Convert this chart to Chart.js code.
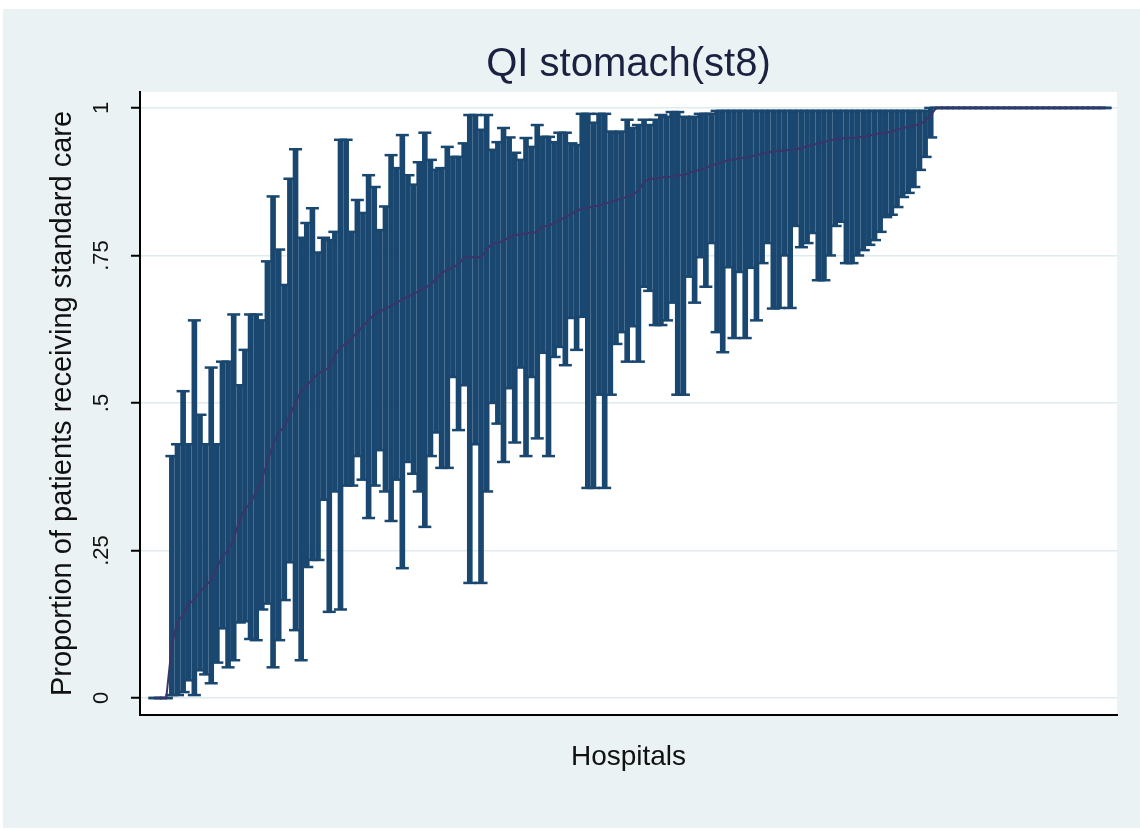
<!DOCTYPE html>
<html>
<head>
<meta charset="utf-8">
<title>QI stomach(st8)</title>
<script src="https://cdn.jsdelivr.net/npm/chart.js@4.4.1/dist/chart.umd.min.js"></script>
<style>
  body { margin: 0; background: #fff; }
  #wrap { position: absolute; left: 3px; top: 9px; width: 1137px; height: 819px; background: #eaf2f3; }
</style>
</head>
<body>
<div id="wrap"><canvas id="chart" width="1137" height="819"></canvas></div>
<script>
const chartTitle = "QI stomach(st8)";
const xTitle = "Hospitals";
const yTitle = "Proportion of patients receiving standard care";
const yTickValues = [0, 0.25, 0.5, 0.75, 1];
const yTickLabels = ["0", ".25", ".5", ".75", "1"];

// hospitals ranked by proportion, 1..170
const hospitals = [];
for (let i = 1; i <= 170; i++) hospitals.push(i);

const proportion = [
  0, 0, 0,
  0.09, 0.13, 0.14, 0.16, 0.166, 0.18, 0.19, 0.2, 0.22, 0.24, 0.25, 0.27, 0.3, 0.32, 0.33, 0.35, 0.37,
  0.4, 0.43, 0.45, 0.46, 0.48, 0.5, 0.52, 0.53, 0.54, 0.55, 0.555, 0.56, 0.58, 0.595, 0.6, 0.61, 0.62, 0.63, 0.64, 0.65,
  0.655, 0.66, 0.665, 0.67, 0.675, 0.68, 0.685, 0.69, 0.695, 0.7, 0.71, 0.72, 0.725, 0.73, 0.735, 0.747, 0.747, 0.747, 0.747, 0.76,
  0.771, 0.771, 0.775, 0.78, 0.785, 0.785, 0.788, 0.788, 0.79, 0.8, 0.8, 0.805, 0.81, 0.815, 0.82, 0.825, 0.83, 0.83, 0.834, 0.834,
  0.838, 0.84, 0.844, 0.846, 0.85, 0.853, 0.86, 0.875, 0.88, 0.88, 0.882, 0.883, 0.884, 0.886, 0.886, 0.89, 0.893, 0.895, 0.898, 0.903,
  0.905, 0.908, 0.912, 0.912, 0.915, 0.915, 0.918, 0.92, 0.922, 0.925, 0.926, 0.927, 0.928, 0.929, 0.93, 0.932, 0.935, 0.937, 0.94, 0.942,
  0.945, 0.947, 0.948, 0.949, 0.949, 0.95, 0.951, 0.953, 0.955, 0.957, 0.958, 0.96, 0.963, 0.966, 0.968, 0.97, 0.972, 0.978, 0.988,
  1, 1, 1, 1, 1, 1, 1, 1, 1, 1, 1, 1, 1, 1, 1, 1, 1, 1, 1, 1, 1, 1, 1, 1, 1, 1, 1, 1, 1, 1, 1
];

const lowerCI = [
  0, 0, 0,
  0.005, 0.005, 0.01, 0.03, 0.005, 0.047, 0.04, 0.025, 0.06, 0.118, 0.052, 0.064, 0.128, 0.13, 0.1, 0.098, 0.15,
  0.16, 0.052, 0.098, 0.166, 0.23, 0.115, 0.064, 0.222, 0.234, 0.234, 0.336, 0.146, 0.35, 0.15, 0.36, 0.36, 0.41, 0.37, 0.305, 0.36,
  0.42, 0.35, 0.3, 0.37, 0.22, 0.4, 0.38, 0.35, 0.29, 0.41, 0.45, 0.39, 0.39, 0.544, 0.454, 0.53, 0.195, 0.43, 0.195, 0.35,
  0.5, 0.465, 0.4, 0.525, 0.433, 0.56, 0.41, 0.544, 0.44, 0.585, 0.41, 0.578, 0.595, 0.564, 0.644, 0.59, 0.646, 0.356, 0.356, 0.514,
  0.356, 0.514, 0.6, 0.62, 0.57, 0.63, 0.57, 0.697, 0.69, 0.632, 0.632, 0.64, 0.67, 0.514, 0.514, 0.714, 0.67, 0.747, 0.697, 0.771,
  0.62, 0.586, 0.73, 0.61, 0.722, 0.61, 0.729, 0.64, 0.737, 0.771, 0.66, 0.661, 0.75, 0.661, 0.8, 0.764, 0.771, 0.788, 0.708, 0.708,
  0.75, 0.8, 0.807, 0.737, 0.737, 0.75, 0.759, 0.768, 0.776, 0.79, 0.815, 0.819, 0.832, 0.849, 0.856, 0.866, 0.895, 0.917, 0.95,
  1, 1, 1, 1, 1, 1, 1, 1, 1, 1, 1, 1, 1, 1, 1, 1, 1, 1, 1, 1, 1, 1, 1, 1, 1, 1, 1, 1, 1, 1, 1
];

const upperCI = [
  0, 0, 0,
  0.41, 0.43, 0.52, 0.43, 0.64, 0.48, 0.43, 0.56, 0.43, 0.57, 0.57, 0.65, 0.53, 0.59, 0.65, 0.65, 0.64,
  0.74, 0.85, 0.76, 0.7, 0.88, 0.93, 0.78, 0.805, 0.83, 0.755, 0.78, 0.776, 0.79, 0.946, 0.946, 0.79, 0.844, 0.822, 0.886, 0.866,
  0.793, 0.833, 0.92, 0.898, 0.954, 0.886, 0.87, 0.908, 0.958, 0.912, 0.895, 0.898, 0.934, 0.917, 0.917, 0.94, 0.988, 0.988, 0.963, 0.988,
  0.929, 0.942, 0.966, 0.95, 0.924, 0.912, 0.949, 0.934, 0.971, 0.951, 0.951, 0.942, 0.958, 0.958, 0.94, 0.937, 0.99, 0.99, 0.975, 0.99,
  0.99, 0.96, 0.958, 0.96, 0.98, 0.966, 0.971, 0.98, 0.971, 0.98, 0.988, 0.985, 0.993, 0.993, 0.985, 0.983, 0.985, 0.99, 0.99, 0.99,
  0.995, 0.995, 0.995, 0.995, 0.995, 0.995, 0.995, 0.995, 0.995, 0.995, 0.995, 0.995, 0.995, 0.995, 0.995, 0.995, 0.995, 0.995, 0.995, 0.995,
  0.995, 0.995, 0.995, 0.995, 0.995, 0.995, 0.995, 0.995, 0.995, 0.995, 0.995, 0.995, 0.995, 0.995, 0.995, 0.995, 0.995, 0.995, 1,
  1, 1, 1, 1, 1, 1, 1, 1, 1, 1, 1, 1, 1, 1, 1, 1, 1, 1, 1, 1, 1, 1, 1, 1, 1, 1, 1, 1, 1, 1, 1
];

const fontFamily = '"Liberation Sans", Arial, sans-serif';
const navy = '#1a476f';

// white plot region, title centred over the plot, vertical y tick labels (Stata look)
const stataFrame = {
  id: 'stataFrame',
  beforeDraw(chart) {
    const {ctx, chartArea: a} = chart;
    ctx.save();
    ctx.fillStyle = '#ffffff';
    ctx.fillRect(a.left, a.top, a.right - a.left, a.bottom - a.top);
    ctx.restore();
  },
  afterDraw(chart) {
    const {ctx, chartArea: a} = chart;
    const yScale = chart.scales.y;
    ctx.save();
    ctx.textAlign = 'center';
    ctx.textBaseline = 'middle';
    ctx.fillStyle = '#1b2140';
    ctx.font = '40px ' + fontFamily;
    ctx.fillText(chartTitle, (a.left + a.right) / 2, 56);

    ctx.fillStyle = '#111';
    ctx.font = '22px ' + fontFamily;
    yTickValues.forEach((v, k) => {
      ctx.save();
      ctx.translate(99, yScale.getPixelForValue(v));
      ctx.rotate(-Math.PI / 2);
      ctx.fillText(yTickLabels[k], 0, 0);
      ctx.restore();
    });
    ctx.restore();
  }
};

function buildChart() {
  const ciBars = hospitals.map((h, i) => ({x: h, y: [lowerCI[i], upperCI[i]]}));
  const lowCaps = hospitals.map((h, i) => ({x: h, y: lowerCI[i]}));
  const highCaps = hospitals.map((h, i) => ({x: h, y: upperCI[i]}));
  const means = hospitals.map((h, i) => ({x: h, y: proportion[i]}));

  const capStyle = {
    type: 'line',
    showLine: false,
    pointStyle: 'line',
    pointRadius: 6.5,
    pointBorderWidth: 2.5,
    pointBorderColor: navy,
    order: 2
  };

  const config = {
    type: 'bar',
    data: {
      datasets: [
        {type: 'line', data: means, borderColor: '#3a3468', borderWidth: 2, pointRadius: 0, tension: 0, order: 0},
        Object.assign({data: highCaps}, capStyle),
        Object.assign({data: lowCaps}, capStyle),
        {type: 'bar', data: ciBars, backgroundColor: navy, borderWidth: 0, barThickness: 5, order: 3}
      ]
    },
    options: {
      responsive: false,
      animation: false,
      events: [],
      layout: {padding: {top: 83, left: 0, right: 23, bottom: 0}},
      plugins: {
        legend: {display: false},
        tooltip: {enabled: false},
        title: {display: false}
      },
      scales: {
        x: {
          type: 'linear',
          offset: false,
          min: -1.67,
          max: 172.14,
          grid: {display: false},
          ticks: {display: false},
          border: {display: true, color: '#000', width: 2},
          title: {display: true, text: xTitle, color: '#111', font: {size: 28, family: fontFamily}, padding: {top: 0, bottom: 54}},
          afterFit: s => { s.height = 113; }
        },
        y: {
          min: -0.0288,
          max: 1.027,
          afterBuildTicks: s => { s.ticks = yTickValues.map(v => ({value: v})); },
          grid: {color: '#e0ebee', lineWidth: 1.5, tickLength: 9, tickColor: '#000', tickWidth: 2},
          ticks: {display: false},
          border: {display: true, color: '#000', width: 2},
          title: {display: true, text: yTitle, color: '#111', font: {size: 29, family: fontFamily}, padding: {top: 43, bottom: 0}},
          afterFit: s => { s.width = 137; }
        }
      }
    },
    plugins: [stataFrame]
  };

  new Chart(document.getElementById('chart'), config);
}

buildChart();
</script>
</body>
</html>
